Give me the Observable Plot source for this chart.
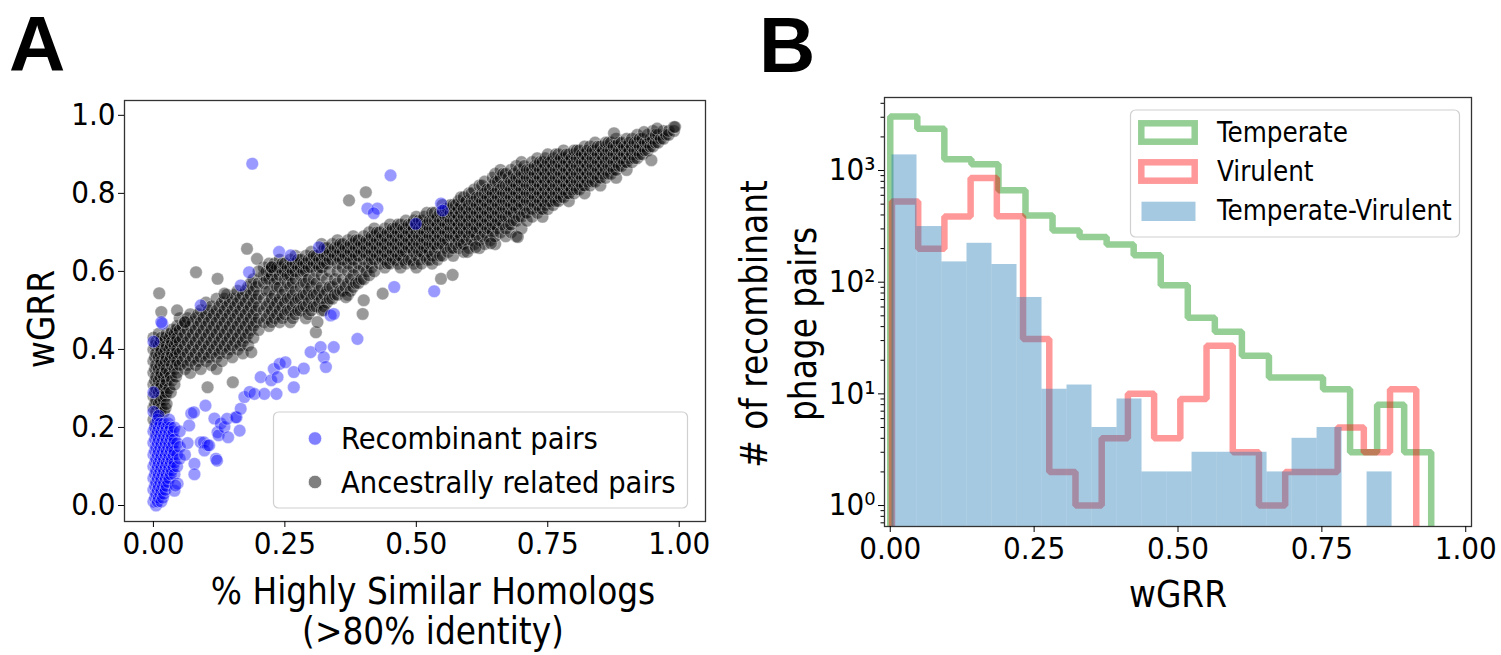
<!DOCTYPE html>
<html><head><meta charset="utf-8">
<script src="https://cdn.jsdelivr.net/npm/d3@7"></script>
<script src="https://cdn.jsdelivr.net/npm/@observablehq/plot@0.6"></script>
<style>
html,body{margin:0;padding:0;background:#fff;}
#root{position:relative;width:1501px;height:655px;overflow:hidden;font-family:"DejaVu Sans",sans-serif;background:#fff;}
#root svg{position:absolute;top:0;}
</style></head><body><div id="root"></div>
<script>
// ---------- Panel A data ----------
const xTicksA = [0, 0.25, 0.5, 0.75, 1.0];
const yTicksA = [0, 0.2, 0.4, 0.6, 0.8, 1.0];
const xLabelA = ["% Highly Similar Homologs", "(>80% identity)"];
const yLabelA = "wGRR";
const seriesA = ["Recombinant pairs", "Ancestrally related pairs"];

// each column: [x, y1, y2, ...]
const ancestralCols = [
 [0.000,0.22,0.25,0.28,0.31,0.34,0.37,0.40,0.43],
 [0.003,0.21,0.26,0.29,0.32,0.35,0.38,0.41],
 [0.005,0.19,0.24,0.27,0.30,0.33,0.36,0.39,0.42],
 [0.010,0.18,0.23,0.26,0.29,0.32,0.35,0.38,0.41,0.44],
 [0.013,0.20,0.24,0.27,0.30,0.33,0.36,0.39,0.42],
 [0.015,0.21,0.25,0.28,0.31,0.34,0.37,0.40,0.43],
 [0.020,0.24,0.27,0.30,0.33,0.36,0.39,0.42],
 [0.023,0.25,0.28,0.31,0.34,0.37,0.40,0.43],
 [0.025,0.26,0.29,0.32,0.35,0.38,0.41,0.44],
 [0.030,0.30,0.34,0.37,0.40,0.43],
 [0.033,0.29,0.33,0.38,0.41,0.44],
 [0.035,0.32,0.36,0.39,0.42,0.45],
 [0.040,0.31,0.35,0.38,0.41,0.44],
 [0.043,0.33,0.36,0.39,0.42,0.45],
 [0.045,0.34,0.37,0.40,0.43,0.46],
 [0.05,0.36,0.39,0.42,0.45,0.48],
 [0.055,0.37,0.40,0.43,0.46],
 [0.06,0.35,0.38,0.41,0.44,0.47],
 [0.065,0.36,0.39,0.42,0.45,0.48],
 [0.07,0.34,0.37,0.40,0.43,0.46,0.49],
 [0.075,0.38,0.41,0.44,0.47],
 [0.08,0.36,0.39,0.42,0.45,0.48],
 [0.085,0.37,0.40,0.43,0.46,0.49],
 [0.09,0.35,0.38,0.41,0.44,0.47,0.50],
 [0.095,0.39,0.42,0.45,0.48],
 [0.10,0.37,0.40,0.43,0.46,0.49,0.52],
 [0.105,0.38,0.41,0.44,0.47,0.50],
 [0.11,0.36,0.39,0.42,0.45,0.48,0.51],
 [0.115,0.40,0.43,0.46,0.49],
 [0.12,0.35,0.38,0.41,0.44,0.47,0.50,0.53],
 [0.125,0.39,0.42,0.45,0.48,0.51],
 [0.13,0.37,0.40,0.43,0.46,0.49,0.52],
 [0.135,0.41,0.44,0.47,0.50,0.53],
 [0.14,0.39,0.42,0.45,0.48,0.51,0.54],
 [0.145,0.40,0.43,0.46,0.49,0.52],
 [0.15,0.38,0.41,0.44,0.47,0.50,0.53],
 [0.155,0.42,0.45,0.48,0.51,0.54],
 [0.16,0.40,0.43,0.46,0.49,0.52,0.55],
 [0.165,0.41,0.44,0.47,0.50,0.53],
 [0.17,0.39,0.42,0.45,0.48,0.51,0.54],
 [0.175,0.43,0.46,0.49,0.52,0.55],
 [0.18,0.41,0.44,0.47,0.50,0.53,0.56],
 [0.185,0.45,0.48,0.51,0.54,0.57],
 [0.19,0.43,0.46,0.49,0.52,0.55,0.58],
 [0.195,0.47,0.50,0.53,0.56],
 [0.20,0.45,0.48,0.51,0.54,0.57],
 [0.21,0.47,0.50,0.53,0.57,0.59,0.61],
 [0.215,0.48,0.51,0.55,0.58,0.60],
 [0.22,0.46,0.49,0.52,0.55,0.58,0.60,0.62],
 [0.225,0.47,0.50,0.53,0.59,0.61],
 [0.23,0.48,0.51,0.54,0.57,0.60,0.62],
 [0.235,0.49,0.52,0.56,0.58,0.61],
 [0.24,0.47,0.50,0.53,0.56,0.59,0.61,0.63],
 [0.245,0.48,0.51,0.54,0.60,0.62],
 [0.25,0.49,0.52,0.55,0.58,0.60,0.62],
 [0.255,0.50,0.53,0.57,0.59,0.61],
 [0.26,0.47,0.50,0.53,0.56,0.59,0.61,0.63],
 [0.265,0.48,0.51,0.54,0.57,0.60,0.62],
 [0.27,0.49,0.52,0.55,0.58,0.60,0.62,0.64],
 [0.275,0.50,0.53,0.61,0.63],
 [0.28,0.50,0.53,0.56,0.59,0.61,0.63],
 [0.285,0.51,0.54,0.57,0.60,0.62],
 [0.29,0.48,0.51,0.54,0.57,0.60,0.62,0.64],
 [0.295,0.49,0.52,0.55,0.58,0.61,0.63],
 [0.30,0.50,0.53,0.56,0.61,0.63,0.65],
 [0.305,0.51,0.54,0.58,0.62,0.64],
 [0.31,0.51,0.54,0.57,0.60,0.62,0.64],
 [0.315,0.52,0.55,0.61,0.63],
 [0.32,0.50,0.53,0.56,0.59,0.61,0.63,0.65,0.67],
 [0.325,0.51,0.54,0.62,0.64,0.66],
 [0.33,0.52,0.55,0.58,0.62,0.64,0.66],
 [0.335,0.53,0.56,0.60,0.63,0.65],
 [0.34,0.53,0.56,0.63,0.65,0.67],
 [0.345,0.54,0.58,0.64,0.66],
 [0.35,0.54,0.57,0.60,0.62,0.64,0.66,0.68],
 [0.355,0.55,0.63,0.65,0.67],
 [0.36,0.55,0.58,0.61,0.63,0.65,0.67],
 [0.365,0.56,0.64,0.66],
 [0.37,0.54,0.57,0.60,0.62,0.64,0.66,0.68],
 [0.375,0.55,0.58,0.63,0.65,0.67],
 [0.38,0.56,0.59,0.61,0.63,0.65,0.67,0.69],
 [0.385,0.57,0.64,0.66,0.68],
 [0.39,0.57,0.60,0.62,0.64,0.66,0.68],
 [0.395,0.58,0.65,0.67],
 [0.40,0.58,0.61,0.63,0.65,0.67,0.69],
 [0.405,0.60,0.64,0.66,0.68],
 [0.41,0.59,0.62,0.64,0.66,0.68,0.70],
 [0.415,0.61,0.63,0.65,0.67,0.69],
 [0.42,0.60,0.63,0.65,0.67,0.69,0.71],
 [0.425,0.64,0.66,0.68,0.70],
 [0.43,0.62,0.64,0.66,0.68,0.70],
 [0.435,0.63,0.65,0.67,0.69],
 [0.44,0.61,0.63,0.65,0.67,0.69,0.71],
 [0.445,0.62,0.64,0.66,0.68,0.70],
 [0.45,0.62,0.64,0.66,0.68,0.70,0.72],
 [0.455,0.63,0.65,0.67,0.69,0.71],
 [0.46,0.63,0.65,0.67,0.69,0.71],
 [0.465,0.62,0.64,0.66,0.68,0.70,0.72],
 [0.47,0.61,0.64,0.66,0.68,0.70,0.72],
 [0.475,0.63,0.65,0.67,0.69,0.71],
 [0.48,0.62,0.65,0.67,0.69,0.71,0.73],
 [0.485,0.63,0.66,0.68,0.70,0.72],
 [0.49,0.63,0.66,0.68,0.70,0.72],
 [0.495,0.62,0.65,0.67,0.69,0.71,0.73],
 [0.50,0.61,0.64,0.66,0.68,0.70,0.72,0.74],
 [0.505,0.63,0.65,0.67,0.69,0.71,0.73],
 [0.51,0.62,0.65,0.67,0.69,0.71,0.73],
 [0.515,0.64,0.66,0.68,0.70,0.72,0.74],
 [0.52,0.63,0.66,0.68,0.70,0.72,0.75],
 [0.525,0.63,0.65,0.67,0.69,0.71,0.73],
 [0.53,0.62,0.64,0.67,0.69,0.71,0.73,0.75],
 [0.535,0.65,0.67,0.69,0.71,0.73,0.75],
 [0.54,0.63,0.66,0.68,0.70,0.72,0.74],
 [0.545,0.64,0.67,0.69,0.71,0.73,0.75],
 [0.55,0.64,0.67,0.69,0.71,0.73,0.75,0.77],
 [0.555,0.66,0.68,0.70,0.72,0.74,0.76],
 [0.56,0.65,0.68,0.70,0.72,0.74,0.76],
 [0.565,0.66,0.69,0.71,0.73,0.75,0.77],
 [0.57,0.64,0.66,0.69,0.71,0.73,0.75,0.77],
 [0.575,0.67,0.69,0.71,0.73,0.75,0.77],
 [0.58,0.66,0.68,0.70,0.72,0.74,0.76,0.78],
 [0.585,0.67,0.69,0.71,0.73,0.75,0.77,0.79],
 [0.59,0.65,0.67,0.70,0.72,0.74,0.76,0.79],
 [0.595,0.68,0.70,0.72,0.74,0.76,0.78],
 [0.60,0.66,0.69,0.71,0.73,0.75,0.77,0.80],
 [0.605,0.68,0.70,0.72,0.74,0.76,0.78,0.80],
 [0.61,0.67,0.70,0.72,0.74,0.76,0.78,0.81],
 [0.615,0.69,0.71,0.73,0.75,0.77,0.79],
 [0.62,0.66,0.68,0.71,0.73,0.75,0.77,0.79,0.82],
 [0.625,0.69,0.72,0.74,0.76,0.78,0.80,0.82],
 [0.63,0.67,0.70,0.72,0.74,0.76,0.78,0.80,0.83],
 [0.635,0.69,0.71,0.73,0.75,0.77,0.79,0.81],
 [0.64,0.68,0.71,0.73,0.75,0.77,0.79,0.81],
 [0.645,0.70,0.72,0.74,0.76,0.78,0.80,0.82,0.84],
 [0.65,0.67,0.69,0.72,0.74,0.76,0.78,0.80,0.83,0.85],
 [0.655,0.71,0.73,0.75,0.77,0.79,0.81,0.83],
 [0.66,0.70,0.73,0.75,0.77,0.79,0.81,0.84,0.86],
 [0.665,0.72,0.74,0.76,0.78,0.80,0.82,0.85],
 [0.67,0.69,0.71,0.74,0.76,0.78,0.80,0.82,0.85],
 [0.675,0.72,0.74,0.76,0.78,0.80,0.82,0.84],
 [0.68,0.70,0.72,0.75,0.77,0.79,0.81,0.83,0.86],
 [0.685,0.73,0.75,0.77,0.79,0.81,0.83,0.85],
 [0.69,0.69,0.73,0.76,0.78,0.80,0.82,0.84,0.87],
 [0.695,0.74,0.76,0.78,0.80,0.82,0.84,0.86],
 [0.70,0.71,0.74,0.77,0.79,0.81,0.83,0.85,0.88],
 [0.705,0.75,0.77,0.79,0.81,0.83,0.85,0.87],
 [0.71,0.73,0.75,0.78,0.80,0.82,0.84,0.86],
 [0.715,0.76,0.78,0.80,0.82,0.84,0.86],
 [0.72,0.74,0.76,0.78,0.80,0.82,0.84,0.86,0.88],
 [0.725,0.77,0.79,0.81,0.83,0.85,0.87],
 [0.73,0.75,0.77,0.79,0.81,0.83,0.85,0.87,0.89],
 [0.735,0.76,0.78,0.80,0.82,0.84,0.86,0.88],
 [0.74,0.74,0.76,0.78,0.80,0.82,0.84,0.86,0.88],
 [0.745,0.77,0.79,0.81,0.83,0.85,0.87,0.89],
 [0.75,0.76,0.78,0.80,0.82,0.84,0.86,0.88,0.90],
 [0.755,0.78,0.80,0.82,0.84,0.86,0.88],
 [0.76,0.77,0.79,0.81,0.83,0.85,0.87,0.89],
 [0.765,0.78,0.80,0.82,0.84,0.86,0.88,0.90],
 [0.77,0.78,0.80,0.82,0.84,0.86,0.88,0.90],
 [0.775,0.79,0.81,0.83,0.85,0.87,0.89],
 [0.78,0.79,0.81,0.83,0.85,0.87,0.89,0.91],
 [0.785,0.80,0.82,0.84,0.86,0.88,0.90],
 [0.79,0.78,0.80,0.82,0.84,0.86,0.88,0.90],
 [0.795,0.81,0.83,0.85,0.87,0.89],
 [0.80,0.80,0.82,0.84,0.86,0.88,0.90,0.91],
 [0.805,0.81,0.83,0.85,0.87,0.89,0.91],
 [0.81,0.81,0.83,0.85,0.87,0.89,0.91],
 [0.815,0.82,0.84,0.86,0.88,0.90],
 [0.82,0.80,0.82,0.84,0.86,0.88,0.90,0.92],
 [0.825,0.83,0.85,0.87,0.89,0.91],
 [0.83,0.82,0.84,0.86,0.88,0.90,0.92],
 [0.835,0.83,0.85,0.87,0.89,0.91],
 [0.84,0.83,0.85,0.87,0.89,0.91,0.93],
 [0.845,0.84,0.86,0.88,0.90,0.92],
 [0.85,0.82,0.84,0.86,0.88,0.90,0.92],
 [0.855,0.85,0.87,0.89,0.91],
 [0.86,0.84,0.86,0.88,0.90,0.92,0.93],
 [0.865,0.85,0.87,0.89,0.91,0.93],
 [0.87,0.85,0.87,0.89,0.91,0.93],
 [0.875,0.86,0.88,0.90,0.92],
 [0.88,0.84,0.86,0.88,0.90,0.92,0.94],
 [0.885,0.87,0.89,0.91,0.93],
 [0.89,0.87,0.89,0.91,0.93],
 [0.895,0.88,0.90,0.92],
 [0.90,0.86,0.88,0.90,0.92,0.94],
 [0.905,0.89,0.91,0.93],
 [0.91,0.88,0.90,0.92,0.94],
 [0.915,0.89,0.91,0.93],
 [0.92,0.89,0.91,0.93,0.95],
 [0.925,0.90,0.92,0.94],
 [0.93,0.90,0.92,0.94],
 [0.935,0.91,0.93],
 [0.94,0.91,0.93,0.95],
 [0.945,0.92,0.94],
 [0.95,0.92,0.94,0.96],
 [0.955,0.93,0.95],
 [0.96,0.93,0.95],
 [0.965,0.94],
 [0.97,0.94,0.96],
 [0.975,0.95],
 [0.98,0.95,0.96],
 [0.99,0.96,0.97]
];
const ancestralExtra = [
 [0.011,0.544],[0.015,0.496],[0.081,0.598],[0.122,0.581],[0.135,0.543],[0.151,0.316],
 [0.103,0.303],[0.186,0.393],[0.178,0.658],[0.197,0.632],[0.372,0.782],[0.404,0.803],
 [0.309,0.444],[0.312,0.470],[0.324,0.500],[0.398,0.491],[0.400,0.526],[0.366,0.534],
 [0.436,0.543],[0.547,0.581],[0.569,0.591],[0.947,0.885],[0.958,0.966],[0.992,0.970],
 [0.060,0.470],[0.045,0.500],[0.225,0.611],[0.200,0.600],[0.597,0.650],[0.613,0.662],
 [0.642,0.672],[0.693,0.688],[0.876,0.954],[0.933,0.957]
];
const recombinantCols = [
 [0.000,0.01,0.04,0.07,0.10,0.13,0.16,0.19,0.24,0.29],
 [0.003,0.02,0.05,0.08,0.11,0.14,0.17,0.20],
 [0.005,0.00,0.03,0.06,0.09,0.12,0.15,0.18,0.21],
 [0.008,0.01,0.04,0.07,0.10,0.13,0.16,0.19,0.22],
 [0.010,0.02,0.05,0.08,0.11,0.14,0.17,0.20,0.23],
 [0.013,0.03,0.06,0.09,0.12,0.15,0.18,0.21],
 [0.015,0.01,0.04,0.07,0.10,0.13,0.16,0.19],
 [0.018,0.02,0.05,0.08,0.11,0.14,0.17,0.20],
 [0.020,0.03,0.06,0.09,0.12,0.15,0.18,0.21],
 [0.023,0.04,0.07,0.10,0.13,0.16,0.19],
 [0.025,0.05,0.08,0.11,0.14,0.17,0.20],
 [0.028,0.06,0.09,0.12,0.15,0.18,0.21],
 [0.030,0.07,0.10,0.13,0.16,0.19,0.22],
 [0.033,0.08,0.11,0.14,0.17,0.20],
 [0.035,0.09,0.12,0.15,0.18],
 [0.038,0.10,0.13,0.16,0.19],
 [0.040,0.08,0.11,0.14,0.17,0.20],
 [0.045,0.10,0.13,0.16],
 [0.050,0.12,0.15,0.19]
];
const recombinantExtra = [
 [0.040,0.038],[0.046,0.056],[0.042,0.051],[0.060,0.130],[0.065,0.160],[0.068,0.205],
 [0.072,0.236],[0.077,0.239],[0.078,0.107],[0.078,0.080],[0.090,0.162],[0.096,0.162],
 [0.097,0.141],[0.099,0.256],[0.103,0.154],[0.106,0.154],[0.116,0.223],[0.119,0.120],
 [0.121,0.115],[0.122,0.188],[0.124,0.180],[0.128,0.210],[0.135,0.201],[0.140,0.222],
 [0.142,0.175],[0.156,0.226],[0.158,0.226],[0.164,0.192],[0.166,0.248],[0.173,0.278],
 [0.183,0.291],[0.192,0.286],[0.204,0.329],[0.211,0.286],[0.224,0.321],[0.229,0.350],
 [0.234,0.286],[0.236,0.329],[0.240,0.363],[0.251,0.367],[0.267,0.342],[0.267,0.303],
 [0.286,0.351],[0.299,0.393],[0.318,0.406],[0.324,0.380],[0.328,0.355],[0.343,0.406],
 [0.337,0.487],[0.343,0.491],[0.388,0.427],[0.458,0.560],[0.534,0.549],[0.499,0.722],
 [0.547,0.774],[0.550,0.756],[0.407,0.761],[0.426,0.761],[0.419,0.749],[0.451,0.846],
 [0.188,0.876],[0.239,0.650],[0.261,0.641],[0.315,0.662],[0.182,0.598],[0.166,0.564],
 [0.090,0.513],[0.017,0.466],[0.000,0.420],[0.015,0.470]
];

// ---------- Panel B data ----------
const xTicksB = [0, 0.25, 0.5, 0.75, 1.0];
const yMajorB = [1, 10, 100, 1000];
const xLabelB = "wGRR";
const yLabelB = ["# of recombinant", "phage pairs"];
const seriesB = ["Temperate", "Virulent", "Temperate-Virulent"];
const temperateRange = [0.000, 0.940];
const temperateCounts = [3040, 2370, 1260, 1140, 665, 395, 290, 254, 218, 174, 94, 48, 36, 22, 14, 14, 11, 3, 8, 3];
const virulentRange = [0.003, 0.914];
const virulentCounts = [527, 199, 387, 859, 389, 31, 2, 1, 4, 10, 4, 9, 27, 3, 1, 2, 2, 5, 3, 11];
const tvRange = [0.003, 0.872];
const tvCounts = [1380, 315, 152, 223, 144, 73, 11, 12, 5, 9, 2, 2, 3, 3, 3, 2, 4, 5, 0, 2];

// ---------- build ----------
const FONT = "'DejaVu Sans Condensed', 'DejaVu Sans', sans-serif";
const TICK = 31, LABEL = 36.5;
const pointsOf = (cols, extra) => {
  const out = [];
  for (const [x, ...ys] of cols) for (const y of ys) out.push({x, y});
  for (const [x, y] of extra) out.push({x, y});
  return out;
};
const anc = pointsOf(ancestralCols, ancestralExtra);
const rec = pointsOf(recombinantCols, recombinantExtra);

const FLOOR = 0.2;
function binsOf(counts, range) {
  const n = counts.length, w = (range[1] - range[0]) / n;
  return counts.map((c, i) => ({x1: range[0] + i * w, x2: range[0] + (i + 1) * w, count: c, base: FLOOR}));
}
function stepOf(counts, range) {
  const bins = binsOf(counts, range);
  const pts = [{x: range[0], y: FLOOR}];
  for (const b of bins) { pts.push({x: b.x1, y: b.count}); pts.push({x: b.x2, y: b.count}); }
  pts.push({x: range[1], y: FLOOR});
  return pts;
}
const sup = {0: "\u2070", 1: "\u00b9", 2: "\u00b2", 3: "\u00b3"};
const yMinorB = [-1, 0, 1, 2, 3].flatMap(k => [2,3,4,5,6,7,8,9].map(m => m * Math.pow(10, k)))
  .filter(v => v > 0.649 && v < 4508);

const root = document.getElementById("root");
const dotStyle = {x: "x", y: "y", r: 6.3, fillOpacity: 0.4, stroke: "#fff", strokeOpacity: 0.45, strokeWidth: 0.8};

const plotA = Plot.plot({
  width: 740, height: 655,
  marginLeft: 124, marginRight: 35, marginTop: 100, marginBottom: 134,
  style: {fontFamily: FONT, fontSize: TICK + "px", color: "#000", background: "none", overflow: "visible"},
  x: {domain: [-0.055, 1.05]},
  y: {domain: [-0.041, 1.038]},
  marks: [
    Plot.dot(anc, {...dotStyle, fill: "#000"}),
    Plot.dot(rec, {...dotStyle, fill: "#0000ff"}),
    Plot.frame({stroke: "#333", strokeWidth: 1.3}),
    Plot.axisX({ticks: xTicksA, tickFormat: d3.format(".2f"), tickSize: 6, tickPadding: 4, label: null, fontSize: TICK}),
    Plot.axisY({ticks: yTicksA, tickFormat: d3.format(".1f"), tickSize: 6, tickPadding: 3, label: null, fontSize: TICK}),
    Plot.text([xLabelA[0]], {frameAnchor: "bottom", dx: 18, dy: 82, fontSize: LABEL}),
    Plot.text([xLabelA[1]], {frameAnchor: "bottom", dx: 18, dy: 122, fontSize: LABEL}),
    Plot.text([yLabelA], {frameAnchor: "left", textAnchor: "middle", rotate: -90, dx: -82, dy: 8, fontSize: LABEL})
  ]
});
plotA.style.left = "0px";
root.appendChild(plotA);

const plotB = Plot.plot({
  width: 761, height: 655,
  marginLeft: 144, marginRight: 30, marginTop: 97, marginBottom: 129,
  style: {fontFamily: FONT, fontSize: TICK + "px", color: "#000", background: "none", overflow: "visible"},
  x: {domain: [-0.01, 1.01]},
  y: {type: "log", domain: [0.649, 4508]},
  marks: [
    Plot.line(stepOf(temperateCounts, temperateRange), {x: "x", y: "y", stroke: "#2ca02c", strokeOpacity: 0.5, strokeWidth: 6.5, strokeLinejoin: "miter", clip: true}),
    Plot.line(stepOf(virulentCounts, virulentRange), {x: "x", y: "y", stroke: "#ff0000", strokeOpacity: 0.4, strokeWidth: 6.5, strokeLinejoin: "miter", clip: true}),
    Plot.rectY(binsOf(tvCounts, tvRange).filter(d => d.count > 0), {x1: "x1", x2: "x2", y1: "base", y2: "count", fill: "#1f77b4", fillOpacity: 0.4, clip: true}),
    Plot.frame({stroke: "#333", strokeWidth: 1.3}),
    Plot.axisX({ticks: xTicksB, tickFormat: d3.format(".2f"), tickSize: 6, tickPadding: 4, label: null, fontSize: TICK}),
    Plot.axisY({ticks: yMajorB, tickFormat: d => "10" + sup[Math.round(Math.log10(d))], tickSize: 6, tickPadding: 3, label: null, fontSize: TICK}),
    Plot.axisY({ticks: yMinorB, tickFormat: () => "", tickSize: 3.5, label: null}),
    Plot.text([xLabelB], {frameAnchor: "bottom", dy: 80, fontSize: LABEL}),
    Plot.text([yLabelB[0]], {frameAnchor: "left", textAnchor: "middle", rotate: -90, dx: -129, dy: 12, fontSize: LABEL}),
    Plot.text([yLabelB[1]], {frameAnchor: "left", textAnchor: "middle", rotate: -90, dx: -80, dy: 12, fontSize: LABEL})
  ]
});
plotB.style.left = "740px";
root.appendChild(plotB);

// ---------- overlay: panel letters + legends ----------
const ns = "http://www.w3.org/2000/svg";
const ov = document.createElementNS(ns, "svg");
ov.setAttribute("width", 1501); ov.setAttribute("height", 655);
ov.style.left = "0px";
ov.innerHTML = `
 <g font-family="Liberation Sans, Arial, sans-serif" font-weight="bold" font-size="78">
  <text x="9" y="71">A</text>
  <text x="759" y="72">B</text>
 </g>
 <rect x="273.5" y="412" width="414" height="96" rx="5" fill="#fff" fill-opacity="0.8" stroke="#d0d0d0" stroke-width="1.2"/>
 <circle cx="315" cy="438.5" r="6.8" fill="#0000ff" fill-opacity="0.5" stroke="#fff" stroke-width="0.8"/>
 <circle cx="315" cy="482" r="6.8" fill="#000" fill-opacity="0.5" stroke="#fff" stroke-width="0.8"/>
 <g font-family="${FONT}" font-size="30.5" fill="#000">
  <text x="341" y="449">${seriesA[0]}</text>
  <text x="341" y="493">${seriesA[1]}</text>
 </g>
 <rect x="1130.5" y="110" width="329" height="127" rx="5" fill="#fff" fill-opacity="0.8" stroke="#d0d0d0" stroke-width="1.2"/>
 <rect x="1141.3" y="123.3" width="53.4" height="18.4" fill="none" stroke="#2ca02c" stroke-opacity="0.5" stroke-width="6.5"/>
 <rect x="1141.3" y="162.3" width="53.4" height="18.4" fill="none" stroke="#ff0000" stroke-opacity="0.4" stroke-width="6.5"/>
 <rect x="1141.5" y="201.7" width="54" height="19.3" fill="#1f77b4" fill-opacity="0.4"/>
 <g font-family="${FONT}" font-size="27.5" fill="#000">
  <text x="1217" y="142">${seriesB[0]}</text>
  <text x="1217" y="181">${seriesB[1]}</text>
  <text x="1217" y="220">${seriesB[2]}</text>
 </g>`;
root.appendChild(ov);
</script></body></html>
